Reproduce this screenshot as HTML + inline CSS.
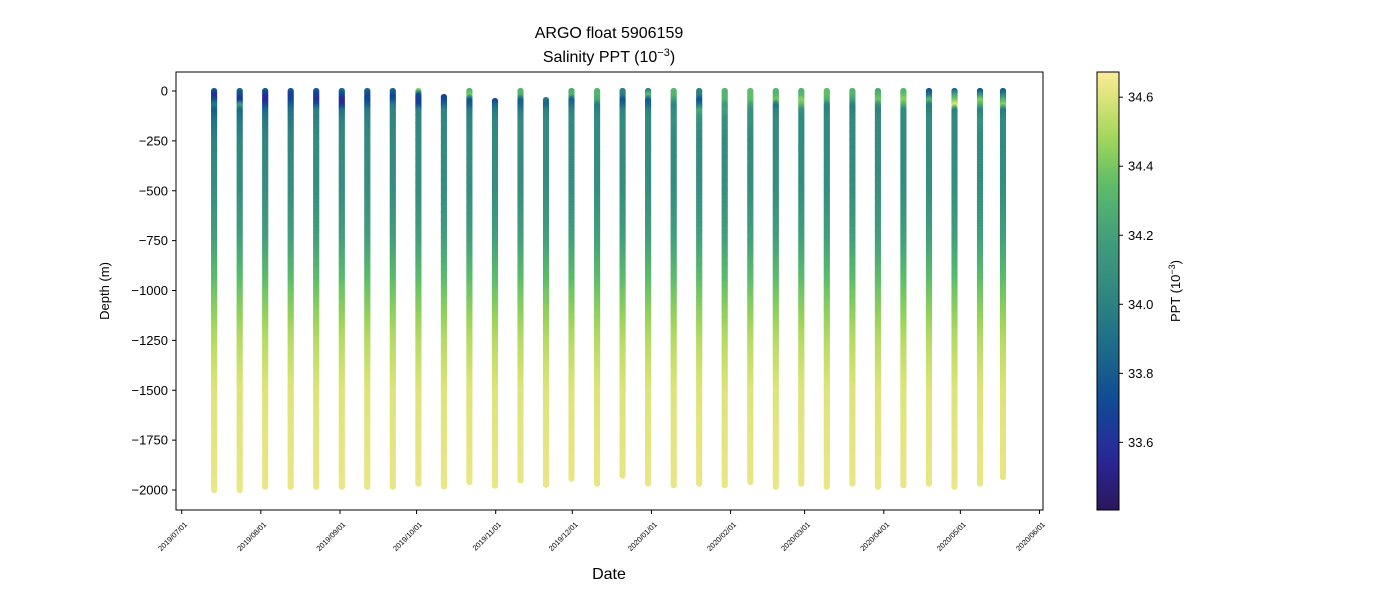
<!DOCTYPE html>
<html><head><meta charset="utf-8"><style>
body{margin:0;background:#fff;font-family:"Liberation Sans",sans-serif}
svg text{font-family:"Liberation Sans",sans-serif;fill:#000}
</style></head><body>
<svg id="chart" width="1400" height="600" viewBox="0 0 1400 600" xmlns="http://www.w3.org/2000/svg">
<defs><linearGradient id="cbg" x1="0" y1="1" x2="0" y2="0"></linearGradient></defs>
<text x="609" y="38" font-size="16" text-anchor="middle">ARGO float 5906159</text>
<text x="609" y="62" font-size="16" text-anchor="middle">Salinity PPT (10<tspan dy="-6" font-size="11">−3</tspan><tspan dy="6">)</tspan></text>
<g id="marks"></g>
<rect x="176" y="72" width="867" height="438" fill="none" stroke="#000" stroke-width="1"/>
<g id="yaxis"></g>
<g id="xaxis"></g>
<text transform="translate(109,291) rotate(-90)" font-size="13" text-anchor="middle">Depth (m)</text>
<text x="609" y="579" font-size="16" text-anchor="middle">Date</text>
<rect x="1097" y="72" width="22" height="438" fill="url(#cbg)" stroke="#000" stroke-width="1"/>
<g id="cbaxis"></g>
<text transform="translate(1180,291) rotate(-90)" font-size="13" text-anchor="middle">PPT (10<tspan dy="-5" font-size="9">−3</tspan><tspan dy="5">)</tspan></text>
</svg>
<script>
const NS="http://www.w3.org/2000/svg";
const levels=[0,25,50,75,100,150,250,500,750,1000,1250,1500,2000];
const days=[12.7,22.7,32.7,42.7,52.7,62.7,72.7,82.7,92.7,102.7,112.7,122.7,132.7,142.7,152.7,162.7,172.7,182.7,192.7,202.7,212.7,222.7,232.7,242.7,252.7,262.7,272.7,282.7,292.7,302.7,312.7,321.7];
const minDepth=[0,0,0,0,0,0,0,0,0,30,0,50,0,45,0,0,0,0,0,0,0,0,0,0,0,0,0,0,0,0,0,0];
const maxDepth=[2000,2000,1990,1990,1990,1990,1985,1985,1970,1985,1965,1980,1955,1980,1945,1975,1930,1970,1980,1970,1980,1960,1985,1970,1985,1975,1990,1980,1970,1985,1975,1940];
const salinity=[
[33.8,33.55,33.75,33.95,33.8,33.9,34.0,34.08,34.2,34.38,34.52,34.6,34.63],
[33.85,33.7,33.6,34.2,33.85,33.95,34.02,34.08,34.2,34.38,34.52,34.6,34.63],
[33.8,33.6,33.55,33.7,33.85,33.95,34.02,34.08,34.2,34.38,34.52,34.6,34.63],
[33.8,33.65,33.7,33.8,33.9,33.95,34.02,34.08,34.2,34.38,34.52,34.6,34.63],
[33.8,33.65,33.6,33.75,34.0,34.0,34.05,34.08,34.2,34.38,34.52,34.6,34.63],
[33.85,33.7,33.55,33.6,33.9,34.0,34.05,34.08,34.2,34.38,34.52,34.6,34.63],
[33.85,33.7,33.7,33.8,33.95,34.0,34.05,34.08,34.2,34.38,34.52,34.6,34.63],
[33.85,33.7,33.75,33.95,34.0,34.02,34.05,34.08,34.2,34.38,34.52,34.6,34.63],
[34.45,33.7,33.65,33.7,34.0,34.02,34.05,34.08,34.2,34.38,34.52,34.6,34.63],
[33.95,33.7,33.7,33.85,34.0,34.02,34.05,34.08,34.2,34.38,34.52,34.6,34.63],
[34.3,34.4,33.75,33.8,33.95,34.02,34.05,34.08,34.2,34.38,34.52,34.6,34.63],
[34.0,34.0,33.7,33.85,33.95,34.02,34.05,34.08,34.2,34.38,34.52,34.6,34.63],
[34.3,34.3,33.8,33.85,33.95,34.05,34.05,34.08,34.2,34.38,34.52,34.6,34.63],
[34.35,34.35,33.9,33.85,34.0,34.05,34.05,34.08,34.2,34.38,34.52,34.6,34.63],
[34.25,34.3,33.8,33.9,34.0,34.05,34.05,34.08,34.2,34.38,34.52,34.6,34.63],
[34.3,34.3,34.25,33.95,34.0,34.05,34.05,34.08,34.2,34.38,34.52,34.6,34.63],
[34.0,34.0,33.75,33.85,34.0,34.05,34.05,34.08,34.2,34.38,34.52,34.6,34.63],
[34.0,34.35,33.8,33.85,34.0,34.05,34.05,34.08,34.2,34.38,34.52,34.6,34.63],
[34.3,34.3,34.2,34.0,34.05,34.1,34.05,34.08,34.2,34.38,34.52,34.6,34.63],
[34.0,34.0,33.75,33.9,34.25,34.1,34.05,34.08,34.2,34.38,34.52,34.6,34.63],
[34.3,34.3,34.3,34.15,34.2,34.1,34.05,34.08,34.2,34.38,34.52,34.6,34.63],
[34.35,34.35,34.35,34.2,34.1,34.1,34.05,34.08,34.2,34.38,34.52,34.6,34.63],
[34.3,34.3,34.4,33.9,34.0,34.05,34.05,34.08,34.2,34.38,34.52,34.6,34.63],
[34.3,34.3,34.45,34.35,34.1,34.05,34.05,34.08,34.2,34.38,34.52,34.6,34.63],
[34.35,34.35,34.3,34.0,34.0,34.05,34.05,34.08,34.2,34.38,34.52,34.6,34.63],
[34.3,34.3,34.2,34.0,34.0,34.05,34.05,34.08,34.2,34.38,34.52,34.6,34.63],
[34.25,34.3,34.4,34.1,34.0,34.05,34.05,34.08,34.2,34.38,34.52,34.6,34.63],
[34.3,34.35,34.45,34.3,34.05,34.05,34.05,34.08,34.2,34.38,34.52,34.6,34.63],
[33.75,33.9,34.35,33.95,34.0,34.05,34.05,34.08,34.2,34.38,34.52,34.6,34.63],
[33.85,34.2,34.4,34.62,34.0,34.05,34.05,34.08,34.2,34.38,34.52,34.6,34.63],
[33.75,34.1,34.45,34.3,34.0,34.1,34.05,34.08,34.2,34.38,34.52,34.6,34.63],
[33.8,34.0,34.3,34.45,33.95,34.05,34.05,34.08,34.2,34.38,34.52,34.6,34.63]];
const yTicks=[0,-250,-500,-750,-1000,-1250,-1500,-1750,-2000];
const xTickLabels=["2019/07/01","2019/08/01","2019/09/01","2019/10/01","2019/11/01","2019/12/01","2020/01/01","2020/02/01","2020/03/01","2020/04/01","2020/05/01","2020/06/01"];
const xTickDays=[0,31,62,92,123,153,184,215,244,275,305,336];
const cbTicks=[33.6,33.8,34.0,34.2,34.4,34.6];

const X=d=>181.7+d*2.553;
const Y=v=>91-v*0.1995;
const CMIN=33.404,CMAX=34.673;
const CB=v=>510-(v-CMIN)/(CMAX-CMIN)*438;
const stops=[[0,[42,24,90]],[0.12,[43,38,155]],[0.25,[16,75,148]],[0.38,[30,110,136]],[0.5,[50,136,128]],[0.62,[66,158,124]],[0.74,[92,188,106]],[0.84,[155,212,90]],[0.93,[214,226,115]],[1,[251,235,155]]];
function cmap(v){let t=Math.max(0,Math.min(1,(v-CMIN)/(CMAX-CMIN)));
 for(let i=1;i<stops.length;i++){if(t<=stops[i][0]){const a=stops[i-1],b=stops[i],f=(t-a[0])/(b[0]-a[0]);
 return `rgb(${a[1].map((c,k)=>Math.round(c+(b[1][k]-c)*f)).join(",")})`;}}return "rgb(251,235,155)";}
function interp(arr,d){for(let i=1;i<levels.length;i++){if(d<=levels[i]){const f=(d-levels[i-1])/(levels[i]-levels[i-1]);return arr[i-1]+(arr[i]-arr[i-1])*f;}}return arr[arr.length-1];}

const grad=document.getElementById("cbg");
for(let i=0;i<=20;i++){const s=document.createElementNS(NS,"stop");s.setAttribute("offset",i/20);s.setAttribute("stop-color",cmap(CMIN+(CMAX-CMIN)*i/20));grad.appendChild(s);}

const marks=document.getElementById("marks");
days.forEach((d,p)=>{
 const grp=document.createElementNS(NS,"g");
 
 
 const x=X(d);
 for(let z=minDepth[p];z<=maxDepth[p];z+=8){
  const c=document.createElementNS(NS,"circle");
  c.setAttribute("cx",x.toFixed(1));c.setAttribute("cy",Y(-z).toFixed(1));c.setAttribute("r","3.1");
  c.setAttribute("fill",cmap(interp(salinity[p],z)));
  grp.appendChild(c);
 }
 marks.appendChild(grp);
});

const ya=document.getElementById("yaxis");
yTicks.forEach(v=>{const y=Y(v);
 const l=document.createElementNS(NS,"line");l.setAttribute("x1",172);l.setAttribute("x2",176);l.setAttribute("y1",y);l.setAttribute("y2",y);l.setAttribute("stroke","#000");
 
 
 ya.appendChild(l);
 const t=document.createElementNS(NS,"text");t.setAttribute("x",168);t.setAttribute("y",y+4.5);t.setAttribute("font-size","13");t.setAttribute("text-anchor","end");
 t.textContent=v<0?"−"+Math.abs(v):String(v);
 
 
 ya.appendChild(t);});

const xa=document.getElementById("xaxis");
xTickDays.forEach((d,i)=>{const x=X(d);
 const l=document.createElementNS(NS,"line");l.setAttribute("x1",x);l.setAttribute("x2",x);l.setAttribute("y1",510);l.setAttribute("y2",514);l.setAttribute("stroke","#000");
 
 
 xa.appendChild(l);
 const t=document.createElementNS(NS,"text");t.setAttribute("font-size","7.5");t.setAttribute("text-anchor","end");
 t.setAttribute("transform",`translate(${x+6},${525}) rotate(-45)`);t.textContent=xTickLabels[i];
 
 
 xa.appendChild(t);});

const ca=document.getElementById("cbaxis");
cbTicks.forEach(v=>{const y=CB(v);
 const l=document.createElementNS(NS,"line");l.setAttribute("x1",1119);l.setAttribute("x2",1123);l.setAttribute("y1",y);l.setAttribute("y2",y);l.setAttribute("stroke","#000");
 
 
 ca.appendChild(l);
 const t=document.createElementNS(NS,"text");t.setAttribute("x",1128);t.setAttribute("y",y+4.5);t.setAttribute("font-size","13");t.textContent=v.toFixed(1);
 
 
 ca.appendChild(t);});
</script>
</body></html>
